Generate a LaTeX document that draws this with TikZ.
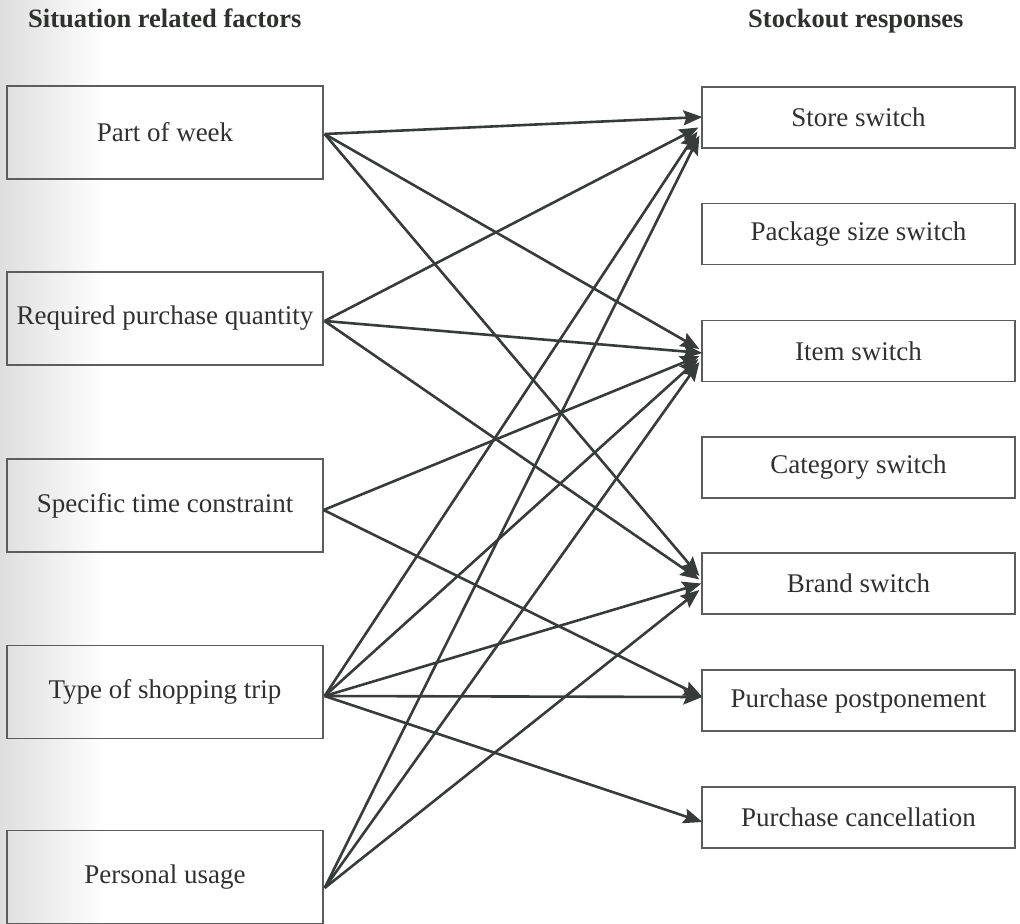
\documentclass[tikz,border=0pt]{standalone}
\usepackage{fontspec}
\setmainfont{Liberation Serif}
\usetikzlibrary{arrows.meta,calc}
\definecolor{ink}{HTML}{2E312E}
\definecolor{wire}{HTML}{373C38}
\definecolor{frame}{HTML}{5C5C5C}

\begin{document}
\begin{tikzpicture}[x=1bp,y=-1bp,
  boxtext/.style={text=ink,font=\fontsize{27bp}{32bp}\selectfont,inner sep=0pt},
  factor/.style={boxtext,draw=frame,line width=1.2bp,minimum width=316bp,minimum height=93bp},
  response/.style={boxtext,draw=frame,line width=1.2bp,minimum width=313bp,minimum height=61bp},
  heading/.style={anchor=base west,text=ink,font=\fontsize{26.5bp}{32bp}\selectfont\bfseries,inner sep=0pt},
  link/.style={draw=wire,line width=2.6bp,-{Stealth[length=19bp,width=15bp,inset=3bp]}}]

\useasboundingbox (0,0) rectangle (1020,924);
% page shading along the binding edge
\shade[left color=black!13,right color=white] (0,0) rectangle (105,924);

% column headings
\node[heading] (hl) at (28,27) {Situation related factors};
\node[heading] (hr) at (748,27) {Stockout responses};

% situation related factors
\node[factor] (pow) at (165,132.5) {Part of week};
\node[factor] (rpq) at (165,318.5) {Required purchase quantity};
\node[factor] (stc) at (165,505.5) {Specific time constraint};
\node[factor] (tst) at (165,692) {Type of shopping trip};
\node[factor] (pu)  at (165,877) {Personal usage};

% stockout responses
\node[response] (store) at (858.5,117.5) {Store switch};
\node[response] (pack)  at (858.5,234)   {Package size switch};
\node[response] (item)  at (858.5,351)   {Item switch};
\node[response] (cat)   at (858.5,467.5) {Category switch};
\node[response] (brand) at (858.5,583.5) {Brand switch};
\node[response] (post)  at (858.5,700.5) {Purchase postponement};
\node[response] (canc)  at (858.5,817.5) {Purchase cancellation};

% starting points on the factor boxes
\coordinate (o-pow) at ($(pow.east)+(1,1.5)$);
\coordinate (o-rpq) at ($(rpq.east)+(1,2.5)$);
\coordinate (o-stc) at ($(stc.east)+(0,4.5)$);
\coordinate (o-tst) at ($(tst.east)+(1,4)$);
\coordinate (o-pu)  at ($(pu.east)+(1,11)$);

% part of week
\draw[link] (o-pow) -- ($(store.west)+(1,-0.5)$);
\draw[link] (o-pow) -- ($(item.west)+(-2,-2)$);
\draw[link] (o-pow) -- ($(brand.west)+(-2,-7.5)$);
% required purchase quantity
\draw[link] (o-rpq) -- ($(store.west)+(-3,10)$);
\draw[link] (o-rpq) -- ($(item.west)+(1,2)$);
\draw[link] (o-rpq) -- ($(brand.west)+(-2,-4)$);
% specific time constraint
\draw[link] (o-stc) -- ($(item.west)+(-2,5)$);
\draw[link] (o-stc) -- ($(post.west)+(1,-3.5)$);
% type of shopping trip
\draw[link] (o-tst) -- ($(store.west)+(-4,14)$);
\draw[link] (o-tst) -- ($(item.west)+(-3,8)$);
\draw[link] (o-tst) -- ($(brand.west)+(0,0)$);
\draw[link] (o-tst) -- ($(post.west)+(1,-3.5)$);
\draw[link] (o-tst) -- ($(canc.west)+(1,4.5)$);
% personal usage
\draw[link] (o-pu) -- ($(store.west)+(-2,18)$);
\draw[link] (o-pu) -- ($(item.west)+(-2,11)$);
\draw[link] (o-pu) -- ($(brand.west)+(-2,6.5)$);
\end{tikzpicture}
\end{document}
